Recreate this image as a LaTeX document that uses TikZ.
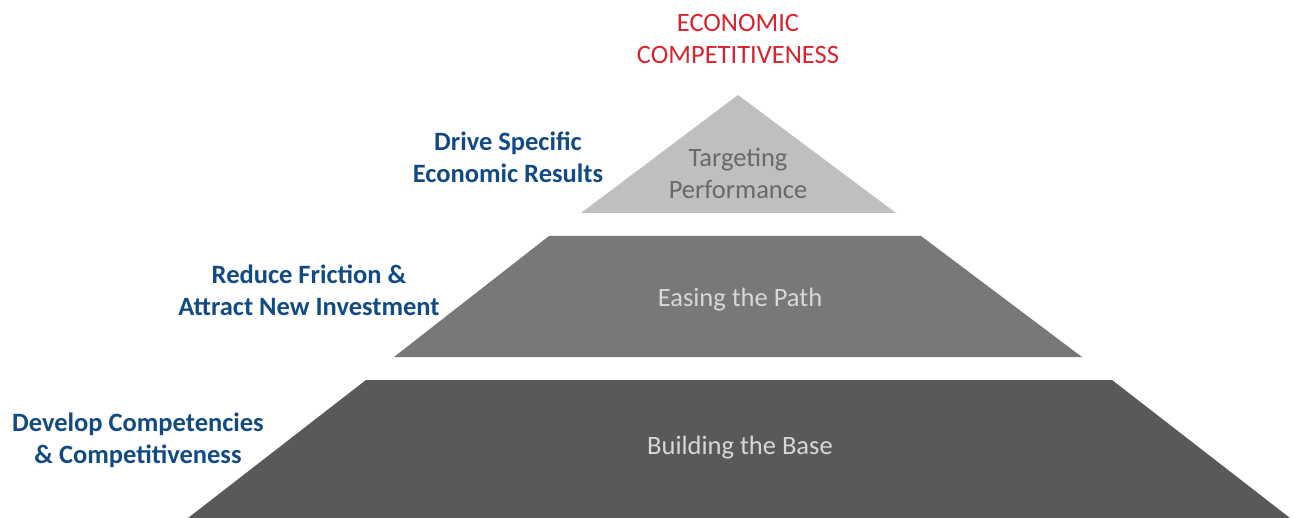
\documentclass[tikz,border=0pt]{standalone}
\usepackage{fontspec}
\setmainfont{Carlito}
\definecolor{toplayer}{RGB}{190,191,191}
\definecolor{midlayer}{RGB}{120,120,122}
\definecolor{baselayer}{RGB}{88,89,91}
\definecolor{goalred}{RGB}{215,36,47}
\definecolor{sideblue}{RGB}{18,74,132}
\definecolor{darktext}{RGB}{105,105,105}
\definecolor{lighttext}{RGB}{215,215,215}
\tikzset{
  layertext/.style={align=center,inner sep=0pt,font=\fontsize{26.5}{32}\selectfont},
  sidelabel/.style={align=center,inner sep=0pt,text=sideblue,font=\fontsize{26.5}{32}\selectfont\bfseries},
  goal/.style={align=center,inner sep=0pt,text=goalred,font=\fontsize{26.5}{32}\selectfont}
}
\begin{document}
\begin{tikzpicture}[x=1pt,y=-1pt]
\useasboundingbox (0,0) rectangle (1295,518);
% layers
\fill[toplayer] (738,95) -- (896,213) -- (581,213) -- cycle;
\fill[midlayer] (549,236) -- (921,236) -- (1082,357) -- (394,357) -- cycle;
\fill[baselayer] (366,380) -- (1112,380) -- (1290,518) -- (188,518) -- cycle;
% texts
\node[goal] (goaltext) at (738,39) {ECONOMIC\\COMPETITIVENESS};
\node[layertext,text=darktext] (toptext) at (738,173) {Targeting\\Performance};
\node[layertext,text=lighttext] (midtext) at (740,300) {Easing the Path};
\node[layertext,text=lighttext] (basetext) at (740,448) {Building the Base};
\node[sidelabel] (lab1) at (508,157) {Drive Specific\\Economic Results};
\node[sidelabel] (lab2) at (309,290) {Reduce Friction \&\\Attract New Investment};
\node[sidelabel] (lab3) at (138,440) {Develop Competencies\\\& Competitiveness};
\end{tikzpicture}
\end{document}
